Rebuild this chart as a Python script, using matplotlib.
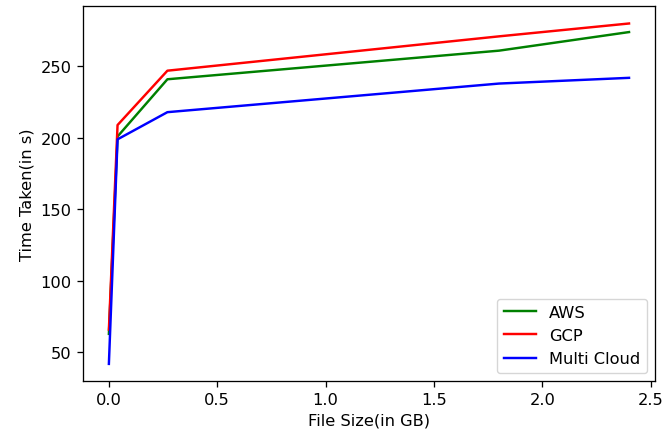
import matplotlib
matplotlib.use("Agg")
import matplotlib.pyplot as plt

# Values
file_size = [0.0, 0.04, 0.27, 1.8, 2.4]
aws = [63, 201, 241, 261, 274]
gcp = [66, 209, 247, 271, 280]
multi_cloud = [42, 199, 218, 238, 242]

scale = 1.17
plt.rcParams["font.size"] = 10 * scale
plt.rcParams["lines.linewidth"] = 1.5 * scale
plt.rcParams["axes.linewidth"] = 0.8 * scale
for ax_name in ("xtick", "ytick"):
    plt.rcParams[ax_name + ".major.size"] = 3.5 * scale
    plt.rcParams[ax_name + ".major.pad"] = 3.5 * scale
    plt.rcParams[ax_name + ".major.width"] = 0.8 * scale

fig = plt.figure(figsize=(6.63, 4.39), dpi=100)
plt.subplots_adjust(left=0.125, right=0.988, bottom=0.13, top=0.983)

plt.plot(file_size, aws, color="green", label="AWS")
plt.plot(file_size, gcp, color="red", label="GCP")
plt.plot(file_size, multi_cloud, color="blue", label="Multi Cloud")

plt.xlabel("File Size(in GB)")
plt.ylabel("Time Taken(in s)")
plt.legend(loc="lower right")

plt.savefig("out.png")
